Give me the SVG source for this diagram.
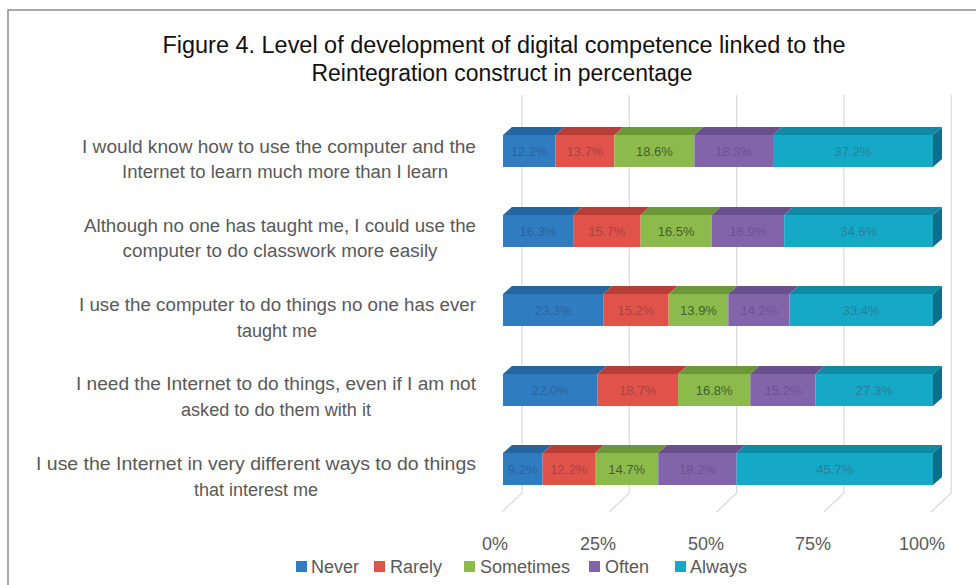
<svg xmlns="http://www.w3.org/2000/svg" width="976" height="585" viewBox="0 0 976 585">
<style>
.t{font-family:"Liberation Sans",Arial,sans-serif;fill:#111;font-size:23px;text-anchor:middle}
.lbl{font-family:"Liberation Sans",Arial,sans-serif;fill:#595959;font-size:18px;text-anchor:middle}
.ax{font-family:"Liberation Sans",Arial,sans-serif;fill:#595959;font-size:18px;text-anchor:middle}
.lg{font-family:"Liberation Sans",Arial,sans-serif;fill:#595959;font-size:18px}
.dl{font-family:"Liberation Sans",Arial,sans-serif;font-size:13px;text-anchor:middle}
.grid{stroke:#d9d9d9;stroke-width:1.2;fill:none}
.b1{fill:#2f7dc0}.b1t{fill:#2566a0}
.b2{fill:#e0534b}.b2t{fill:#b63e37}
.b3{fill:#8cbb4c}.b3t{fill:#6c963a}
.b4{fill:#8264a8}.b4t{fill:#694f8b}
.b5{fill:#16a9c7}.b5t{fill:#0f8aa5}.b5s{fill:#0b7089}
.d1{fill:#2b62a0}.d2{fill:#a84440}.d3{fill:#455f2e}.d4{fill:#6f5291}.d5{fill:#2a7f97}
</style>
<rect x="8" y="10" width="980" height="590" fill="#fff" stroke="#8c8c8c" stroke-width="1.5"/>
<g id="title">
<text class="t" x="504" y="53" textLength="683" lengthAdjust="spacingAndGlyphs">Figure 4. Level of development of digital competence linked to the</text>
<text class="t" x="502" y="81" textLength="381" lengthAdjust="spacingAndGlyphs">Reintegration construct in percentage</text>
</g>
<g id="gridlines">
<path class="grid" d="M522,95V493L502,512"/>
<path class="grid" d="M629.3,95V493L609.3,512"/>
<path class="grid" d="M736.6,95V493L716.6,512"/>
<path class="grid" d="M843.9,95V493L823.9,512"/>
<path class="grid" d="M951.2,95V493L931.2,512"/>
</g>
<g id="labels">
<text class="lbl" x="279" y="153" textLength="394" lengthAdjust="spacingAndGlyphs">I would know how to use the computer and the</text>
<text class="lbl" x="285" y="178" textLength="326" lengthAdjust="spacingAndGlyphs">Internet to learn much more than I learn</text>
<text class="lbl" x="280" y="232" textLength="392" lengthAdjust="spacingAndGlyphs">Although no one has taught me, I could use the</text>
<text class="lbl" x="280" y="257" textLength="315" lengthAdjust="spacingAndGlyphs">computer to do classwork more easily</text>
<text class="lbl" x="277.5" y="311" textLength="397" lengthAdjust="spacingAndGlyphs">I use the computer to do things no one has ever</text>
<text class="lbl" x="277" y="337">taught me</text>
<text class="lbl" x="276" y="390" textLength="400" lengthAdjust="spacingAndGlyphs">I need the Internet to do things, even if I am not</text>
<text class="lbl" x="276" y="416" textLength="190" lengthAdjust="spacingAndGlyphs">asked to do them with it</text>
<text class="lbl" x="256" y="470" textLength="440" lengthAdjust="spacingAndGlyphs">I use the Internet in very different ways to do things</text>
<text class="lbl" x="256" y="496">that interest me</text>
</g>
<g id="bar1">
<polygon class="b1t" points="503,135 555.5,135 564.5,127 512,127"/>
<polygon class="b2t" points="555.5,135 614.4,135 623.4,127 564.5,127"/>
<polygon class="b3t" points="614.4,135 694.4,135 703.4,127 623.4,127"/>
<polygon class="b4t" points="694.4,135 773,135 782,127 703.4,127"/>
<polygon class="b5t" points="773,135 933,135 942,127 782,127"/>
<polygon class="b5s" points="933,135 942,127 942,159 933,167"/>
<rect class="b1" x="503" y="135" width="52.5" height="32"/>
<rect class="b2" x="555.5" y="135" width="58.9" height="32"/>
<rect class="b3" x="614.4" y="135" width="80" height="32"/>
<rect class="b4" x="694.4" y="135" width="78.6" height="32"/>
<rect class="b5" x="773" y="135" width="160" height="32"/>
<text class="dl d1" x="529.2" y="155.5">12.2%</text>
<text class="dl d2" x="585" y="155.5">13.7%</text>
<text class="dl d3" x="654.4" y="155.5">18.6%</text>
<text class="dl d4" x="733.7" y="155.5">18.3%</text>
<text class="dl d5" x="853" y="155.5">37.2%</text>
</g>
<g id="bar2">
<polygon class="b1t" points="503,215 573.1,215 582.1,207 512,207"/>
<polygon class="b2t" points="573.1,215 640.6,215 649.6,207 582.1,207"/>
<polygon class="b3t" points="640.6,215 711.6,215 720.6,207 649.6,207"/>
<polygon class="b4t" points="711.6,215 784.2,215 793.2,207 720.6,207"/>
<polygon class="b5t" points="784.2,215 933,215 942,207 793.2,207"/>
<polygon class="b5s" points="933,215 942,207 942,239 933,247"/>
<rect class="b1" x="503" y="215" width="70.1" height="32"/>
<rect class="b2" x="573.1" y="215" width="67.5" height="32"/>
<rect class="b3" x="640.6" y="215" width="71" height="32"/>
<rect class="b4" x="711.6" y="215" width="72.6" height="32"/>
<rect class="b5" x="784.2" y="215" width="148.8" height="32"/>
<text class="dl d1" x="538" y="235.5">16.3%</text>
<text class="dl d2" x="606.8" y="235.5">15.7%</text>
<text class="dl d3" x="676.1" y="235.5">16.5%</text>
<text class="dl d4" x="747.9" y="235.5">16.9%</text>
<text class="dl d5" x="858.6" y="235.5">34.6%</text>
</g>
<g id="bar3">
<polygon class="b1t" points="503,294 603.2,294 612.2,286 512,286"/>
<polygon class="b2t" points="603.2,294 668.6,294 677.6,286 612.2,286"/>
<polygon class="b3t" points="668.6,294 728.3,294 737.3,286 677.6,286"/>
<polygon class="b4t" points="728.3,294 789.4,294 798.4,286 737.3,286"/>
<polygon class="b5t" points="789.4,294 933,294 942,286 798.4,286"/>
<polygon class="b5s" points="933,294 942,286 942,318 933,326"/>
<rect class="b1" x="503" y="294" width="100.2" height="32"/>
<rect class="b2" x="603.2" y="294" width="65.4" height="32"/>
<rect class="b3" x="668.6" y="294" width="59.7" height="32"/>
<rect class="b4" x="728.3" y="294" width="61.1" height="32"/>
<rect class="b5" x="789.4" y="294" width="143.6" height="32"/>
<text class="dl d1" x="553.1" y="314.5">23.3%</text>
<text class="dl d2" x="635.9" y="314.5">15.2%</text>
<text class="dl d3" x="698.5" y="314.5">13.9%</text>
<text class="dl d4" x="758.9" y="314.5">14.2%</text>
<text class="dl d5" x="861.2" y="314.5">33.4%</text>
</g>
<g id="bar4">
<polygon class="b1t" points="503,374 597.6,374 606.6,366 512,366"/>
<polygon class="b2t" points="597.6,374 678,374 687,366 606.6,366"/>
<polygon class="b3t" points="678,374 750.3,374 759.3,366 687,366"/>
<polygon class="b4t" points="750.3,374 815.6,374 824.6,366 759.3,366"/>
<polygon class="b5t" points="815.6,374 933,374 942,366 824.6,366"/>
<polygon class="b5s" points="933,374 942,366 942,398 933,406"/>
<rect class="b1" x="503" y="374" width="94.6" height="32"/>
<rect class="b2" x="597.6" y="374" width="80.4" height="32"/>
<rect class="b3" x="678" y="374" width="72.3" height="32"/>
<rect class="b4" x="750.3" y="374" width="65.3" height="32"/>
<rect class="b5" x="815.6" y="374" width="117.4" height="32"/>
<text class="dl d1" x="550.3" y="394.5">22.0%</text>
<text class="dl d2" x="637.8" y="394.5">18.7%</text>
<text class="dl d3" x="714.2" y="394.5">16.8%</text>
<text class="dl d4" x="783" y="394.5">15.2%</text>
<text class="dl d5" x="874.3" y="394.5">27.3%</text>
</g>
<g id="bar5">
<polygon class="b1t" points="503,453 542.6,453 551.6,445 512,445"/>
<polygon class="b2t" points="542.6,453 595,453 604,445 551.6,445"/>
<polygon class="b3t" points="595,453 658.2,453 667.2,445 604,445"/>
<polygon class="b4t" points="658.2,453 736.5,453 745.5,445 667.2,445"/>
<polygon class="b5t" points="736.5,453 933,453 942,445 745.5,445"/>
<polygon class="b5s" points="933,453 942,445 942,477 933,485"/>
<rect class="b1" x="503" y="453" width="39.6" height="32"/>
<rect class="b2" x="542.6" y="453" width="52.4" height="32"/>
<rect class="b3" x="595" y="453" width="63.2" height="32"/>
<rect class="b4" x="658.2" y="453" width="78.3" height="32"/>
<rect class="b5" x="736.5" y="453" width="196.5" height="32"/>
<text class="dl d1" x="522.8" y="473.5">9.2%</text>
<text class="dl d2" x="568.8" y="473.5">12.2%</text>
<text class="dl d3" x="626.6" y="473.5">14.7%</text>
<text class="dl d4" x="697.4" y="473.5">18.2%</text>
<text class="dl d5" x="834.8" y="473.5">45.7%</text>
</g>
<g id="axis">
<text class="ax" x="495" y="550">0%</text>
<text class="ax" x="598" y="550">25%</text>
<text class="ax" x="706" y="550">50%</text>
<text class="ax" x="813" y="550">75%</text>
<text class="ax" x="922" y="550">100%</text>
</g>
<g id="legend">
<rect class="b1" x="296" y="561" width="11" height="11"/>
<text class="lg" x="311" y="573">Never</text>
<rect class="b2" x="374" y="561" width="11" height="11"/>
<text class="lg" x="390" y="573">Rarely</text>
<rect class="b3" x="464" y="561" width="11" height="11"/>
<text class="lg" x="480" y="573">Sometimes</text>
<rect class="b4" x="589" y="561" width="11" height="11"/>
<text class="lg" x="605" y="573">Often</text>
<rect class="b5" x="675" y="561" width="11" height="11"/>
<text class="lg" x="690" y="573">Always</text>
</g>
</svg>
